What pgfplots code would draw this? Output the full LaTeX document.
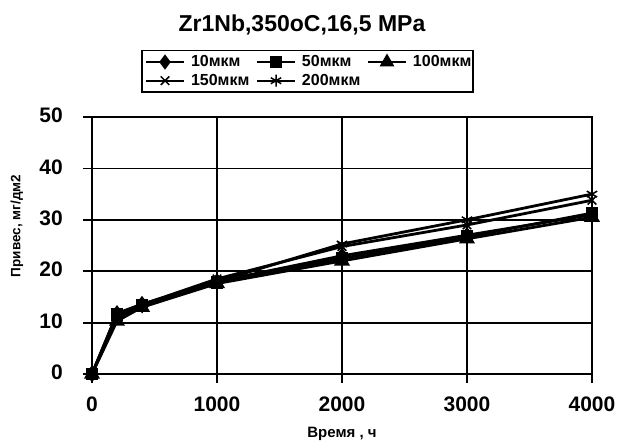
\documentclass[border=0pt]{standalone}
\usepackage{fontspec}
\setmainfont{Liberation Sans}
\usepackage{pgfplots}
\pgfplotsset{compat=1.18}
\begin{document}
\begin{tikzpicture}
\begin{axis}[
  scale only axis,
  width=500pt, height=257pt,
  xmin=0, xmax=4000, ymin=0, ymax=50,
  xtick={0,1000,2000,3000,4000},
  ytick={0,10,20,30,40,50},
  clip=false,
  grid=major,
  grid style={black, line width=1.8pt},
  axis line style={black, line width=1.8pt},
  tick style={black, line width=1.8pt},
  tick align=outside,
  major tick length=9pt,
  xtick pos=bottom, ytick pos=left,
  /pgf/number format/assume math mode=true,
  /pgf/number format/1000 sep={},
  tick label style={font=\fontsize{21}{24}\selectfont\bfseries},
  xticklabel style={anchor=north, inner sep=0pt, yshift=-14pt},
  yticklabel style={anchor=south east, inner sep=0pt, xshift=-20pt, yshift=-6pt},
  legend columns=3,
  legend style={at={(axis description cs:0.431,1.261)}, anchor=north,
    draw=black, line width=1.5pt, inner xsep=3pt, inner ysep=4pt,
    font=\fontsize{16}{18}\selectfont\bfseries,
    nodes={text width=56pt, align=left, inner sep=1pt},
    /tikz/every odd column/.append style={column sep=5pt},
    /tikz/every even column/.append style={column sep=8pt},
    row sep=4pt},
  legend cell align=left,
  legend image code/.code={\draw[mark repeat=2,mark phase=2, line width=2pt]
     plot coordinates {(0pt,0pt) (19pt,0pt) (38pt,0pt)};},
]
\addplot[black, line width=2.8pt, mark=diamond*, mark size=6pt, mark options={fill=black}] coordinates {
 (0,0) (200,11.8) (400,13.6) (1000,18) (2000,23) (3000,27) (4000,31)};
\addlegendentry{10мкм}
\addplot[black, line width=2.8pt, mark=square*, mark size=5pt, mark options={fill=black}] coordinates {
 (0,0) (200,11.5) (400,13.3) (1000,17.8) (2000,22.5) (3000,26.7) (4000,31.3)};
\addlegendentry{50мкм}
\addplot[black, line width=2.8pt, mark=triangle*, mark size=6.5pt, mark options={fill=black}] coordinates {
 (0,0) (200,10.3) (400,13) (1000,17.6) (2000,22) (3000,26.3) (4000,30.5)};
\addlegendentry{100мкм}
\addplot[black, line width=2.8pt, mark=x, mark size=6pt, mark options={line width=1.5pt}] coordinates {
 (0,0) (200,11.5) (400,13.5) (1000,18.5) (2000,24.8) (3000,29) (4000,33.8)};
\addlegendentry{150мкм}
\addplot[black, line width=2.8pt, mark=asterisk, mark size=6pt, mark options={line width=1.5pt}] coordinates {
 (0,0) (200,11) (400,13) (1000,18) (2000,25.3) (3000,30) (4000,35)};
\addlegendentry{200мкм}
\node[font=\fontsize{23}{26}\selectfont\bfseries] at (axis description cs:0.42,1.358) {Zr1Nb,350oC,16,5 MPa};
\node[font=\fontsize{15}{17}\selectfont\bfseries] at (axis description cs:0.5,-0.233) {Время , ч};
\node[font=\fontsize{13.5}{15}\selectfont\bfseries, rotate=90] at (axis description cs:-0.15,0.576) {Привес, мг/дм2};
\path (axis description cs:-0.184,-0.2568) rectangle (axis description cs:1.056,1.4553);
\end{axis}
\end{tikzpicture}
\end{document}
